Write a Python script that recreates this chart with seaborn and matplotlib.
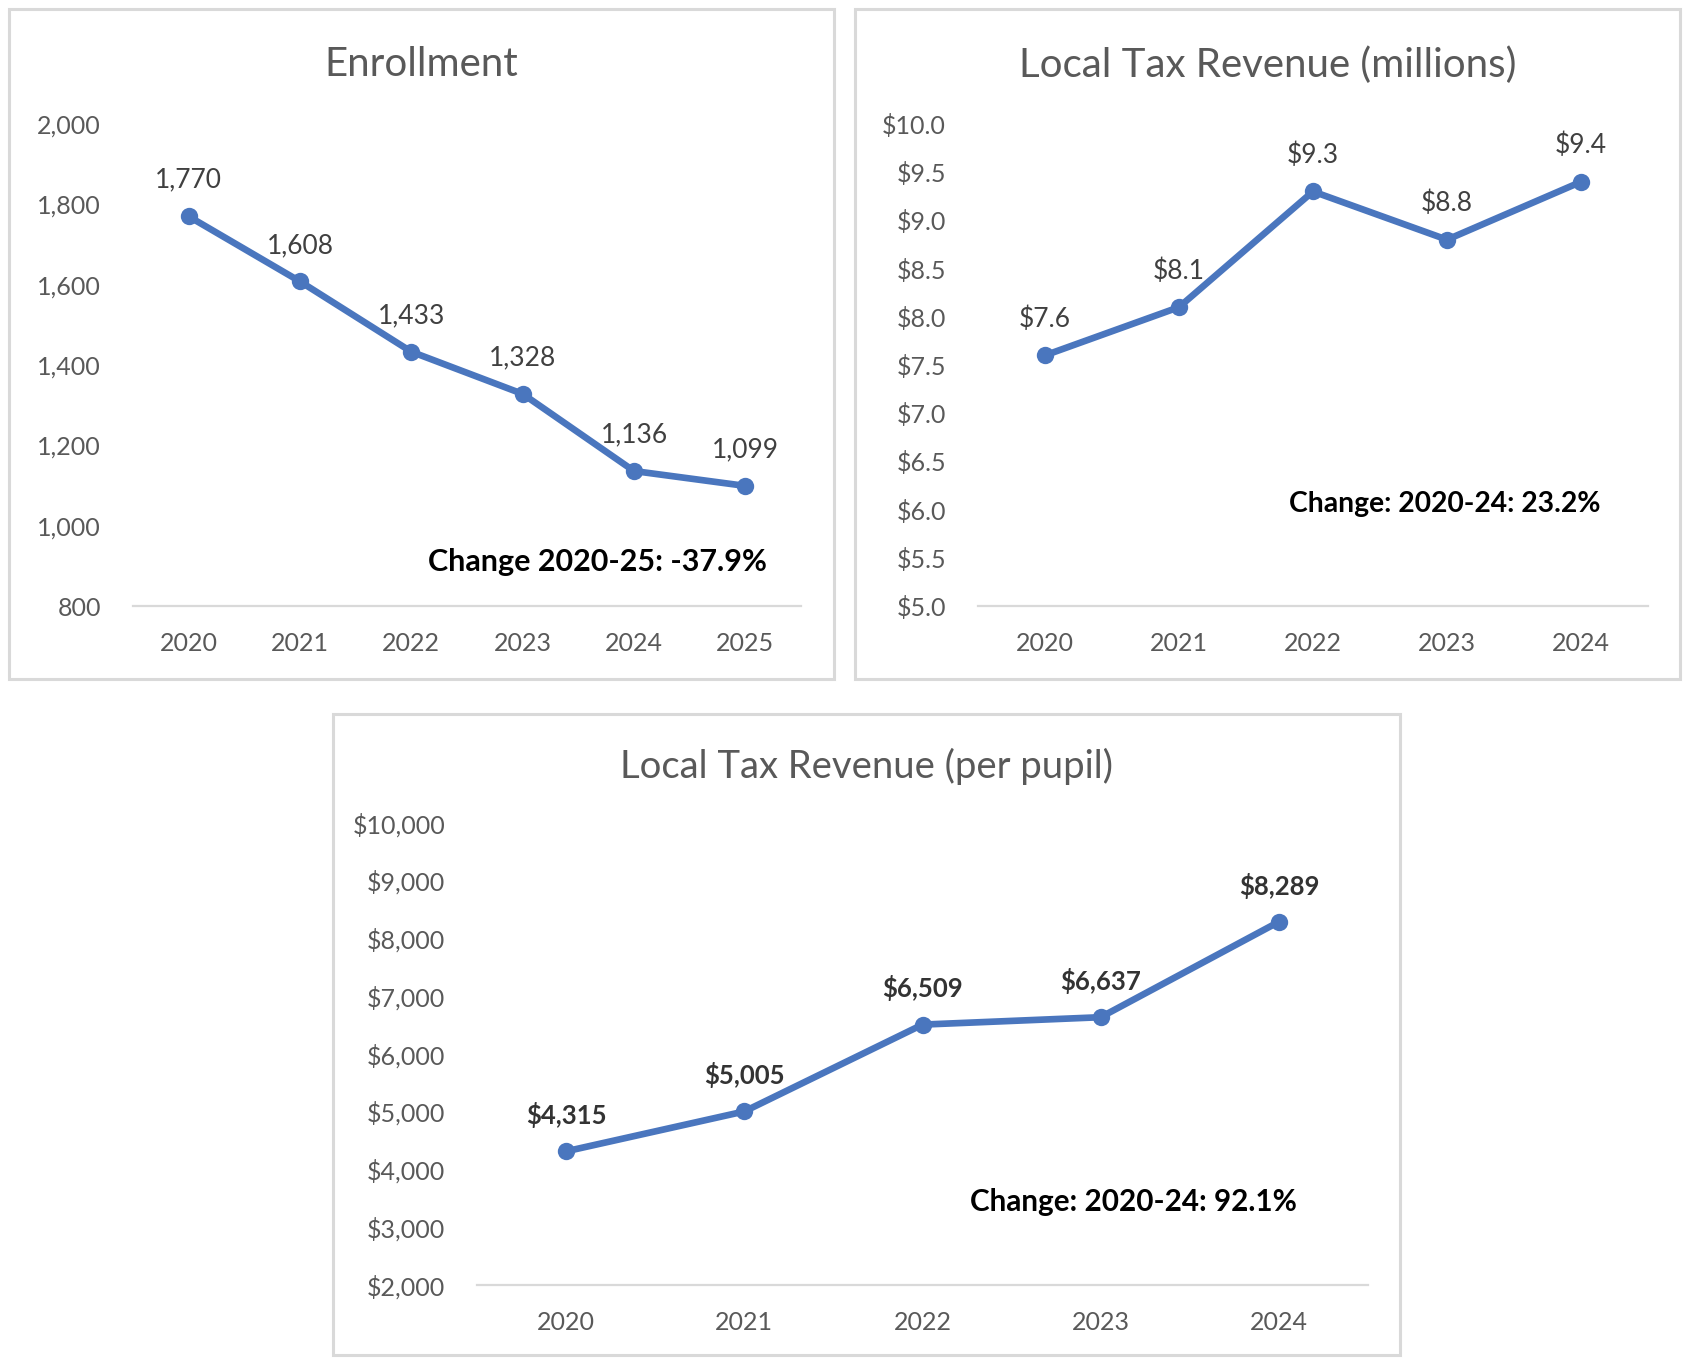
import matplotlib
matplotlib.use("Agg")
import matplotlib.pyplot as plt
import matplotlib.ticker as mticker
from matplotlib.patches import Rectangle
import seaborn as sns
import pandas as pd

# ---------------- data ----------------
enroll_years = [2020, 2021, 2022, 2023, 2024, 2025]
enroll_values = [1770, 1608, 1433, 1328, 1136, 1099]
enroll_labels = ["1,770", "1,608", "1,433", "1,328", "1,136", "1,099"]

tax_years = [2020, 2021, 2022, 2023, 2024]
tax_millions = [7.6, 8.1, 9.3, 8.8, 9.4]
tax_labels = ["$7.6", "$8.1", "$9.3", "$8.8", "$9.4"]

pupil_years = [2020, 2021, 2022, 2023, 2024]
pupil_values = [4315, 5005, 6509, 6637, 8289]
pupil_labels = ["$4,315", "$5,005", "$6,509", "$6,637", "$8,289"]

titles = ["Enrollment", "Local Tax Revenue (millions)", "Local Tax Revenue (per pupil)"]
change_texts = ["Change 2020-25: -37.9%", "Change: 2020-24: 23.2%", "Change: 2020-24: 92.1%"]

# ---------------- style ----------------
sns.set_theme(style="white")
plt.rcParams["font.family"] = ["Lato", "DejaVu Sans"]

LINE = "#4A76BE"
GRAY = "#595959"
LABEL = "#404040"
AXLINE = "#D9D9D9"

W, H = 1692, 1366
fig = plt.figure(figsize=(W / 100, H / 100), dpi=100)
fig.patch.set_facecolor("white")

def px_rect(x0, y0, x1, y1):
    return [x0 / W, 1 - y1 / H, (x1 - x0) / W, (y1 - y0) / H]

# panel borders
borders = [(9, 9, 834, 679), (855, 9, 1680, 679), (333, 714, 1400, 1355)]
for (x0, y0, x1, y1) in borders:
    fig.patches.append(Rectangle((x0 / W, 1 - y1 / H), (x1 - x0) / W, (y1 - y0) / H,
                                 transform=fig.transFigure, fill=False,
                                 edgecolor="#D9D9D9", linewidth=2.2, zorder=0))

ax1 = fig.add_axes(px_rect(133, 124, 801, 606))
ax2 = fig.add_axes(px_rect(978, 124, 1648, 606))
ax3 = fig.add_axes(px_rect(477, 823, 1368, 1285))

def draw(ax, years, vals, labels, ylim, ystep, fmt, change, change_pos, change_size,
         bold_labels=False):
    df = pd.DataFrame({"year": years, "value": vals})
    sns.lineplot(data=df, x="year", y="value", ax=ax, color=LINE, linewidth=4.8,
                 marker="o", markersize=12.5, markeredgewidth=0, zorder=3)
    ax.set_xlim(years[0] - 0.5, years[-1] + 0.5)
    ax.set_ylim(*ylim)
    ax.set_xticks(years)
    ax.set_xticklabels([str(y) for y in years])
    ticks = []
    t = ylim[0]
    while t <= ylim[1] + 1e-9:
        ticks.append(t)
        t += ystep
    ax.set_yticks(ticks)
    ax.yaxis.set_major_formatter(mticker.FuncFormatter(fmt))
    ax.tick_params(axis="y", length=0, pad=23, labelsize=18, labelcolor=GRAY)
    ax.tick_params(axis="x", length=0, pad=19, labelsize=18, labelcolor=GRAY)
    ax.set_xlabel("")
    ax.set_ylabel("")
    for s in ["top", "right", "left"]:
        ax.spines[s].set_visible(False)
    ax.spines["bottom"].set_color(AXLINE)
    ax.spines["bottom"].set_linewidth(1.6)
    ax.spines["bottom"].set_zorder(1)
    ax.set_facecolor("none")
    ax.grid(False)
    for x, v, lab in zip(years, vals, labels):
        ax.annotate(lab, (x, v), xytext=(0, 26), textcoords="offset points",
                    ha="center", va="center",
                    fontsize=18.5 if bold_labels else 19,
                    color="#333333" if bold_labels else LABEL,
                    fontweight="bold" if bold_labels else "normal")
    ax.text(change_pos[0], change_pos[1], change, transform=ax.transAxes,
            ha="right", va="center", fontsize=change_size, fontweight="bold", color="black")

draw(ax1, enroll_years, enroll_values, enroll_labels, (800, 2000), 200,
     lambda v, p: f"{v:,.0f}", change_texts[0], (0.9487, 0.092), 22)
draw(ax2, tax_years, tax_millions, tax_labels, (5.0, 10.0), 0.5,
     lambda v, p: f"${v:.1f}", change_texts[1], (0.929, 0.2125), 20.3)
draw(ax3, pupil_years, pupil_values, pupil_labels, (2000, 10000), 1000,
     lambda v, p: f"${v:,.0f}", change_texts[2], (0.9206, 0.180), 21.3,
     bold_labels=True)

# titles centred on each panel frame
title_y = [65, 65, 766]
title_size = [29, 29, 27.5]
for (x0, y0, x1, y1), title, ty, ts in zip(borders, titles, title_y, title_size):
    fig.text((x0 + x1) / 2 / W, 1 - ty / H, title, ha="center", va="center",
             fontsize=ts, color=GRAY)

fig.savefig("out.png", dpi=100, facecolor="white")
